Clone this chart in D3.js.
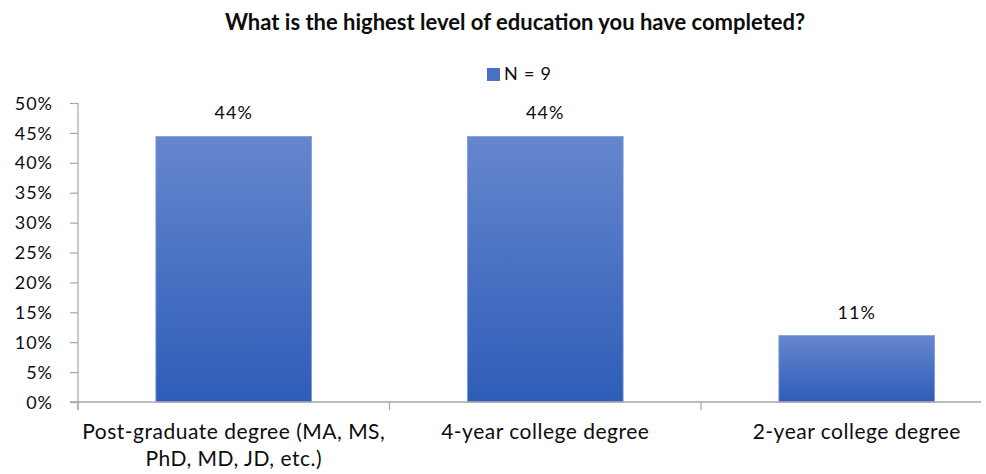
<!DOCTYPE html>
<html><head><meta charset="utf-8">
<script src="https://cdn.jsdelivr.net/npm/d3@7"></script>
<style>body{margin:0;background:#fff;} svg{display:block;} text{font-family:Lato,"Open Sans",sans-serif;fill:#0d0d0d;}</style>
</head><body><svg id="c" width="986" height="474"></svg>
<script>
const categories = ["Post-graduate degree (MA, MS,|PhD, MD, JD, etc.)", "4-year college degree", "2-year college degree"];
const values = [0.444, 0.444, 0.111];
const valueLabels = ["44%", "44%", "11%"];
const yTicks = [0,0.05,0.1,0.15,0.2,0.25,0.3,0.35,0.4,0.45,0.5];
const title = "What is the highest level of education you have completed?";
const legendLabel = "N = 9";

const svg = d3.select("#c");
const x0 = 78, axisEnd = 981;
const x = d3.scaleBand().domain(categories).range([x0, 1012.5]).paddingInner(0.5).paddingOuter(0.25);
const y = d3.scaleLinear().domain([0,0.5]).range([402, 103]);

const defs = svg.append("defs");
const g = defs.append("linearGradient").attr("id","bg").attr("x1",0).attr("x2",0).attr("y1",0).attr("y2",1);
g.append("stop").attr("offset","0%").attr("stop-color","#6586cd");
g.append("stop").attr("offset","100%").attr("stop-color","#2e5db8");

svg.append("text").attr("x", 515).attr("y", 30).attr("text-anchor","middle")
  .style("font-weight","bold").style("font-size","22px").text(title);

// legend
svg.append("rect").attr("x",487).attr("y",68).attr("width",13).attr("height",13).attr("fill","#4a72c4");
svg.append("text").attr("x",504).attr("y",80).style("font-size","18px").style("letter-spacing","0.8px").text(legendLabel);

// y axis
const yAxis = d3.axisLeft(y).tickValues(yTicks).tickFormat(d3.format(".0%")).tickSize(8).tickPadding(17);
const ya = svg.append("g").attr("transform",`translate(${x0},0)`).call(yAxis);
ya.selectAll("text").style("font-size","18px").style("letter-spacing","1px").attr("dy","0.34em").style("fill","#0d0d0d");
ya.select(".domain").attr("stroke","#a6a6a6").attr("stroke-width",1.2).attr("d",`M0,${y(0.5)}V${y(0)+8}`);
ya.selectAll(".tick line").attr("stroke","#a6a6a6").attr("stroke-width",1.2);

// bars
svg.selectAll("rect.bar").data(values).join("rect").attr("class","bar")
  .attr("x",(d,i)=>x(categories[i])).attr("width",x.bandwidth())
  .attr("y",d=>y(d)).attr("height",d=>y(0)-y(d))
  .attr("fill","url(#bg)").attr("stroke","#7f9cda").attr("stroke-width",0.8);

// value labels
svg.selectAll("text.vl").data(values).join("text").attr("class","vl")
  .attr("x",(d,i)=>x(categories[i])+x.bandwidth()/2).attr("y",d=>y(d)-17)
  .attr("text-anchor","middle").style("font-size","18px").style("letter-spacing","1px").text((d,i)=>valueLabels[i]);

// x axis
const gap = (x.step() - x.bandwidth())/2;
svg.append("line").attr("x1",x0-8).attr("x2",axisEnd).attr("y1",y(0)).attr("y2",y(0)).attr("stroke","#a6a6a6").attr("stroke-width",1.4);
categories.forEach((c,i)=>{
  const sx = x(c) - gap;
  svg.append("line").attr("x1",sx).attr("x2",sx).attr("y1",y(0)).attr("y2",y(0)+8).attr("stroke","#a6a6a6").attr("stroke-width",1.2);
});
categories.forEach((c,i)=>{
  const cx = x(c)+x.bandwidth()/2;
  const t = svg.append("text").attr("x",cx).attr("y",439).attr("text-anchor","middle").style("font-size","21px").style("letter-spacing","0.5px");
  c.split("|").forEach((ln,j)=>t.append("tspan").attr("x",cx).attr("dy",j?27:0).text(ln));
});
</script></body></html>
